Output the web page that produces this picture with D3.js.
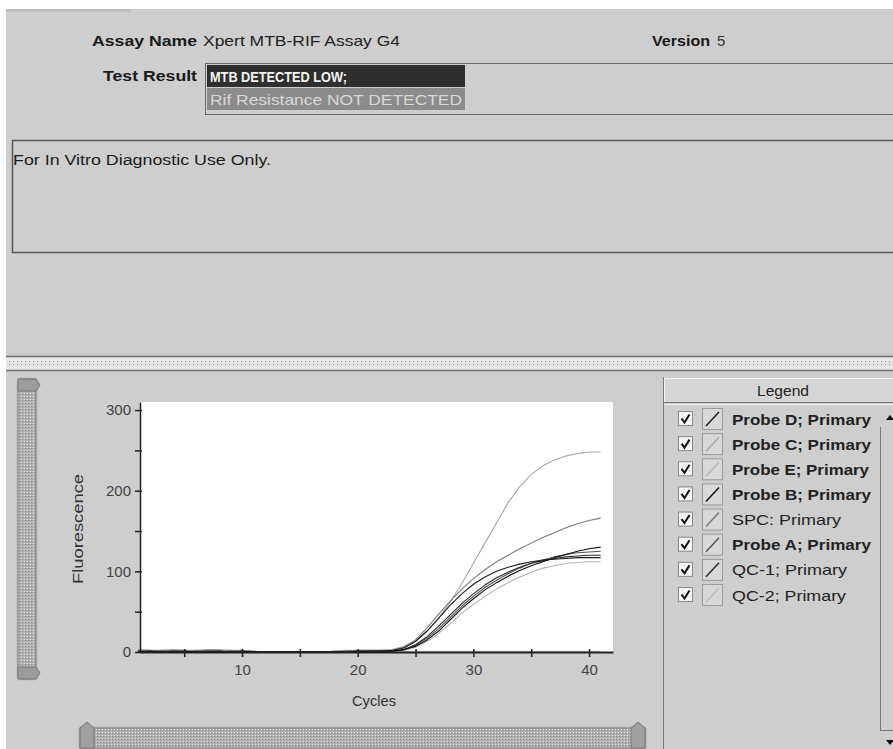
<!DOCTYPE html>
<html>
<head>
<meta charset="utf-8">
<script src="https://cdn.jsdelivr.net/npm/d3@7"></script>
<style>
  html, body { margin: 0; padding: 0; background: #ffffff; }
  svg { display: block; font-family: "Liberation Sans", Arial, sans-serif; }
</style>
</head>
<body>
<svg id="chart" width="893" height="749"></svg>
<script>
// ---------------- DATA ----------------
const cycles = [1,2,3,4,5,6,7,8,9,10,11,12,13,14,15,16,17,18,19,20,21,22,23,24,25,26,27,28,29,30,31,32,33,34,35,36,37,38,39,40,41];

const probeD = [1,1,0,1,1,0,1,1,0,1,0,0,0,0,0,0,0,0,0,1,1,1, 2,5,13,26,42,58,72,84,93,100,105,109,112,114,115,116,117,117,117];
const probeC = [3,2,2,3,2,2,3,3,2,2,1,0,0,0,0,0,0,1,2,2,2,2, 3,7,14,26,42,62,85,110,135,160,185,205,220,231,238,243,246,248,248];
const probeE = [2,1,2,2,1,2,2,1,2,1,1,0,0,0,0,0,0,1,2,1,1,1, 1,2,6,13,23,35,48,59,69,78,86,93,99,104,107,110,111,112,112];
const probeB = [0,1,1,0,0,1,0,0,1,0,0,0,0,0,0,0,0,0,0,0,1,1, 1,3,7,15,26,40,54,66,77,86,94,101,107,112,117,121,125,128,130];
const spc    = [2,2,1,2,2,1,2,2,1,2,1,0,0,0,0,0,0,1,1,2,2,2, 2,6,15,30,47,63,78,91,102,112,120,128,135,142,148,154,159,163,166];
const probeA = [1,0,1,1,0,1,1,0,1,1,0,0,0,0,0,0,0,0,1,1,1,1, 1,3,8,17,29,43,57,69,80,89,97,104,110,114,118,121,123,124,125];
const qc1    = [0,1,0,0,1,0,0,1,0,0,0,0,0,0,0,0,0,0,0,1,1,1, 1,3,9,19,32,46,60,72,83,92,99,105,110,113,116,118,119,120,120];
const qc2    = [2,1,1,2,1,1,2,1,1,1,1,0,0,0,0,0,0,1,1,1,1,1, 1,1,1,1,1,1,1,1,1,1,1,1,1,1,1,1,1,1,1];

const seriesNames  = ["Probe D; Primary","Probe C; Primary","Probe E; Primary","Probe B; Primary","SPC: Primary","Probe A; Primary","QC-1; Primary","QC-2; Primary"];
const seriesValues = [probeD, probeC, probeE, probeB, spc, probeA, qc1, qc2];
const seriesColors = ["#1e1e1e","#a8a8a8","#b4b4b4","#111111","#7a7a7a","#555555","#2a2a2a","#bdbdbd"];
const seriesBold   = [true, true, true, true, false, true, false, false];

const yTicks = [0,50,100,150,200,250,300];
const yLabels = [0,100,200,300];
const xTicks = [5,10,15,20,25,30,35,40];
const xLabels = [10,20,30,40];

const assayName = "Xpert MTB-RIF Assay G4";
const versionText = "5";
const resultLines = ["MTB DETECTED LOW;", "Rif Resistance NOT DETECTED"];
const noteText = "For In Vitro Diagnostic Use Only.";

// ---------------- DRAW ----------------
const svg = d3.select("#chart");
const GRAY = "#cecece";
const FONT = "'Liberation Sans', Arial, sans-serif";

const defs = svg.append("defs");
const pat = defs.append("pattern").attr("id","dots").attr("width",3).attr("height",3).attr("patternUnits","userSpaceOnUse");
pat.append("rect").attr("width",3).attr("height",3).attr("fill","#b0b0b0");
pat.append("rect").attr("width",1).attr("height",1).attr("fill","#e6e6e6");
pat.append("rect").attr("x",1).attr("y",1).attr("width",1).attr("height",1).attr("fill","#8a8a8a");
const pat2 = defs.append("pattern").attr("id","dots2").attr("width",4).attr("height",3).attr("patternUnits","userSpaceOnUse");
pat2.append("rect").attr("width",4).attr("height",3).attr("fill","#e2e2e2");
pat2.append("rect").attr("x",1).attr("y",1).attr("width",1).attr("height",1).attr("fill","#9a9a9a");

svg.append("rect").attr("x",6).attr("y",9).attr("width",887).attr("height",740).attr("fill",GRAY);
svg.append("rect").attr("x",6).attr("y",9).attr("width",125).attr("height",3).attr("fill","#bdbdbd");

function txt(x, y, s, opts) {
  const t = svg.append("text").attr("x",x).attr("y",y).text(s)
    .attr("font-family",FONT)
    .attr("font-size",opts.size || 14)
    .attr("font-weight",opts.bold ? "bold" : "normal")
    .attr("fill",opts.fill || "#1a1a1a")
    .attr("text-anchor",opts.anchor || "start")
    .attr("dominant-baseline","central");
  if (opts.len) t.attr("textLength",opts.len).attr("lengthAdjust","spacingAndGlyphs");
  return t;
}
txt(92, 40, "Assay Name", {bold:true, size:15, len:105});
txt(203, 40, assayName, {size:15, len:197, fill:"#222"});
txt(652, 40, "Version", {bold:true, size:15, len:58});
txt(717, 40, versionText, {size:15, fill:"#333"});
txt(103, 75, "Test Result", {bold:true, size:15, len:94});

svg.append("rect").attr("x",205.5).attr("y",63.5).attr("width",700).attr("height",51).attr("fill",GRAY).attr("stroke","#6a6a6a");
svg.append("rect").attr("x",207).attr("y",65).attr("width",258).attr("height",22).attr("fill","#2f2f2f");
svg.append("rect").attr("x",207).attr("y",88).attr("width",258).attr("height",22).attr("fill","#8c8c8c");
txt(210, 76, resultLines[0], {bold:true, size:15, len:137, fill:"#f4f4f4"});
txt(210, 99, resultLines[1], {size:15, len:252, fill:"#d8d8d8"});

svg.append("rect").attr("x",12.5).attr("y",140.5).attr("width",890).attr("height",112).attr("fill",GRAY).attr("stroke","#555").attr("stroke-width",1.5);
txt(13, 160, noteText, {size:14, len:258, fill:"#1a1a1a"});

svg.append("rect").attr("x",6).attr("y",356).attr("width",887).attr("height",15).attr("fill","#e8e8e8");
svg.append("rect").attr("x",6).attr("y",361).attr("width",887).attr("height",6).attr("fill","url(#dots2)");
svg.append("line").attr("x1",6).attr("x2",893).attr("y1",356.5).attr("y2",356.5).attr("stroke","#6e6e6e").attr("stroke-width",1.5);
svg.append("line").attr("x1",6).attr("x2",893).attr("y1",370.5).attr("y2",370.5).attr("stroke","#6e6e6e").attr("stroke-width",1.5);

function vSlider(x, y, w, h) {
  const g = svg.append("g");
  g.append("rect").attr("x",x-2).attr("y",y-2).attr("width",w+4).attr("height",h+4).attr("rx",4).attr("fill","#c4c4c4");
  g.append("rect").attr("x",x).attr("y",y).attr("width",w).attr("height",h).attr("rx",3).attr("fill","url(#dots)").attr("stroke","#7c7c7c");
  g.append("path").attr("d",`M${x},${y} h${w} l4,6 l-4,6 h-${w} z`).attr("fill","#9c9c9c").attr("stroke","#777");
  g.append("path").attr("d",`M${x},${y+h} h${w} l4,-6 l-4,-6 h-${w} z`).attr("fill","#9c9c9c").attr("stroke","#777");
}
vSlider(18, 379, 18, 300);

(function(){
  const x = 80, y = 728, w = 565, h = 20;
  svg.append("rect").attr("x",x-2).attr("y",y-2).attr("width",w+4).attr("height",h+4).attr("rx",3).attr("fill","#c2c2c2");
  svg.append("rect").attr("x",x).attr("y",y).attr("width",w).attr("height",h).attr("fill","url(#dots)").attr("stroke","#7c7c7c");
  svg.append("path").attr("d",`M${x},${y+h} v-${h} l7,-6 l7,6 v${h} z`).attr("fill","#a0a0a0").attr("stroke","#777");
  svg.append("path").attr("d",`M${x+w},${y+h} v-${h} l-7,-6 l-7,6 v${h} z`).attr("fill","#a0a0a0").attr("stroke","#777");
})();

// ---- chart ----
const x = d3.scaleLinear().domain([1.18, 42.07]).range([140, 613]);
const y = d3.scaleLinear().domain([0, 310]).range([652, 402]);

svg.append("rect").attr("x",140).attr("y",402).attr("width",473).attr("height",250).attr("fill","#ffffff");

const line = d3.line().x((d,i) => x(cycles[i])).y(d => y(d));
const plot = svg.append("g");
const order = d3.range(seriesValues.length).sort((a,b) => d3.hsl(seriesColors[b]).l - d3.hsl(seriesColors[a]).l);
order.forEach(k => {
  plot.append("path").datum(seriesValues[k])
    .attr("d", line)
    .attr("fill","none")
    .attr("stroke", seriesColors[k])
    .attr("stroke-width", 1.1)
    .attr("stroke-linejoin","round");
});

const yAxis = d3.axisLeft(y).tickValues(yTicks).tickSizeInner(5).tickSizeOuter(0)
  .tickPadding(4).tickFormat(d => yLabels.includes(d) ? d : "");
const gy = svg.append("g").attr("transform","translate(140,0)").call(yAxis);
gy.select(".domain").attr("stroke","#222").attr("stroke-width",1.5);
gy.selectAll(".tick line").attr("stroke","#222").attr("stroke-width",1.5).attr("x2",-5).attr("x1",2);
gy.selectAll(".tick text").attr("font-family",FONT).attr("font-size",15).attr("fill","#444");

const xAxis = d3.axisBottom(x).tickValues(xTicks).tickSizeInner(5).tickSizeOuter(0)
  .tickPadding(7).tickFormat(d => xLabels.includes(d) ? d : "");
const gx = svg.append("g").attr("transform","translate(0,652)").call(xAxis);
gx.select(".domain").attr("stroke","#222").attr("stroke-width",2);
gx.selectAll(".tick line").attr("stroke","#222").attr("stroke-width",1.5).attr("y1",-3).attr("y2",5);
gx.selectAll(".tick text").attr("font-family",FONT).attr("font-size",15).attr("fill","#444");

svg.append("text").attr("transform","translate(78,529) rotate(-90)")
  .attr("text-anchor","middle").attr("dominant-baseline","central")
  .attr("font-family",FONT).attr("font-size",14).attr("fill","#333")
  .attr("textLength",110).attr("lengthAdjust","spacingAndGlyphs")
  .text("Fluorescence");
svg.append("text").attr("x",374).attr("y",701)
  .attr("text-anchor","middle").attr("dominant-baseline","central")
  .attr("font-family",FONT).attr("font-size",14).attr("fill","#333")
  .attr("textLength",44).attr("lengthAdjust","spacingAndGlyphs")
  .text("Cycles");

// ---- legend ----
const lg = svg.append("g");
lg.append("line").attr("x1",663.5).attr("x2",663.5).attr("y1",377).attr("y2",749).attr("stroke","#7a7a7a");
lg.append("rect").attr("x",664).attr("y",378).attr("width",229).attr("height",24).attr("fill","#d6d6d6");
lg.append("line").attr("x1",664).attr("x2",893).attr("y1",378.5).attr("y2",378.5).attr("stroke","#f2f2f2");
lg.append("line").attr("x1",664.5).attr("x2",664.5).attr("y1",378).attr("y2",402).attr("stroke","#f2f2f2");
lg.append("line").attr("x1",664).attr("x2",893).attr("y1",402.5).attr("y2",402.5).attr("stroke","#7a7a7a");
lg.append("line").attr("x1",664).attr("x2",893).attr("y1",404.5).attr("y2",404.5).attr("stroke","#f0f0f0");
txt(783, 390, "Legend", {size:15, anchor:"middle", fill:"#222", len:52});

lg.append("line").attr("x1",880.5).attr("x2",880.5).attr("y1",427).attr("y2",731).attr("stroke","#7a7a7a");
lg.append("line").attr("x1",880).attr("x2",893).attr("y1",730.5).attr("y2",730.5).attr("stroke","#7a7a7a");
lg.append("path").attr("d","M886,420 l4,-5 l4,5 z").attr("fill","#111");
lg.append("path").attr("d","M886,740 l4,5 l4,-5 z").attr("fill","#111");

const labelLens = [139, 139, 137, 139, 109, 139, 115, 114];
const rowY = d3.scaleLinear().domain([0, 7]).range([419, 595]);
seriesNames.forEach((name, i) => {
  const cy = rowY(i);
  const row = lg.append("g");
  row.append("rect").attr("x",678.5).attr("y",cy-7.5).attr("width",14).attr("height",14).attr("fill","#f4f4f4").attr("stroke","#8a8a8a");
  row.append("path").attr("d",`M681.5,${cy-0.5} l3,4 l5,-8`).attr("fill","none").attr("stroke","#111").attr("stroke-width",2);
  row.append("rect").attr("x",702.5).attr("y",cy-10.5).attr("width",20).attr("height",21).attr("fill","#d8d8d8").attr("stroke","#9a9a9a");
  row.append("line").attr("x1",706).attr("y1",cy+7).attr("x2",719).attr("y2",cy-7)
    .attr("stroke", seriesColors[i]).attr("stroke-width",1.5);
  row.append("text").attr("x",732).attr("y",cy).attr("dominant-baseline","central")
    .attr("font-family",FONT).attr("font-size",15).attr("fill","#222")
    .attr("font-weight", seriesBold[i] ? "bold" : "normal")
    .attr("textLength", labelLens[i]).attr("lengthAdjust","spacingAndGlyphs")
    .text(name);
});
</script>
</body>
</html>
